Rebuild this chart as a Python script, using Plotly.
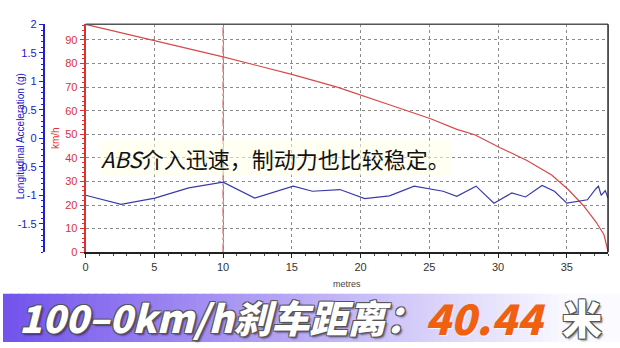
import plotly.graph_objects as go

# ---- data ----
speed_dist = [0, 5.0, 10.0, 15.0, 18.3, 22.2, 25.1, 27.0, 28.3, 30.15, 32.1, 33.9, 35.1, 36.2, 37.1, 37.7, 38.0]
speed_kmh = [96.6, 89.6, 82.8, 75.4, 70.0, 62.3, 56.6, 52.1, 49.8, 44.3, 38.9, 32.7, 26.6, 19.8, 13.0, 7.5, 0.3]

acc_dist = [0, 2.58, 5.04, 7.5, 10.0, 12.3, 15.1, 16.5, 18.5, 20.3, 22.1, 23.9, 26.0, 27.0, 28.4, 29.7,
            31.0, 32.0, 33.2, 34.1, 35.0, 36.5, 37.1, 37.3, 37.5, 37.8, 38.0]
acc_g = [-1.00, -1.16, -1.05, -0.87, -0.77, -1.05, -0.84, -0.93, -0.90, -1.06, -1.01, -0.84, -0.93, -1.02,
         -0.84, -1.14, -0.96, -1.03, -0.83, -0.93, -1.14, -1.08, -0.89, -0.84, -1.00, -0.92, -1.05]

x_ticks = [0, 5, 10, 15, 20, 25, 30, 35]
speed_ticks = [0, 10, 20, 30, 40, 50, 60, 70, 80, 90]
acc_ticks = [2, 1.5, 1, 0.5, 0, -0.5, -1, -1.5]
acc_tick_text = ["2", "1.5", "1", "0.5", "0", "-0.5", "-1", "-1.5"]

acc_title = "Longitudinal Acceleration (g)"
note_text = "<i>ABS</i>介入迅速，制动力也比较稳定。"
banner_main = "100–0km/h刹车距离："
banner_value = "40.44"
banner_unit = "米"

RED = "#e03030"
BLUE = "#2020c8"
GRID = "#8a8a8a"

fig = go.Figure()
fig.add_trace(go.Scatter(x=speed_dist, y=speed_kmh, mode="lines",
                         line=dict(color="#d84848", width=1.2), yaxis="y", showlegend=False))
fig.add_trace(go.Scatter(x=acc_dist, y=acc_g, mode="lines",
                         line=dict(color="#3a3aa8", width=1.2), yaxis="y2", showlegend=False))

y0 = (348 - 255) / 348
y1 = (348 - 19) / 348
x0 = 83 / 620
x1 = 608 / 620

tickfont = dict(family="Liberation Sans, Arial", size=11)

fig.update_layout(
    width=620, height=348, margin=dict(l=0, r=0, t=0, b=0),
    paper_bgcolor="white", plot_bgcolor="white",
    xaxis=dict(domain=[x0, x1], range=[0, 38], tickvals=x_ticks, showgrid=True,
               gridcolor=GRID, griddash="3px,3px", gridwidth=1,
               showline=True, linecolor="#222", linewidth=2, mirror=False,
               ticks="outside", ticklen=4, tickcolor="#222",
               minor=dict(dtick=1, ticks="outside", ticklen=2, tickcolor="#444"),
               tickfont=dict(color="#333", **tickfont), zeroline=False,
               title=dict(text="metres", font=dict(size=9, color="#444", family="Liberation Sans, Arial"), standoff=8)),
    yaxis=dict(domain=[y0, y1], range=[0, 96.6], tickvals=speed_ticks, showgrid=True,
               gridcolor=GRID, griddash="3px,3px", gridwidth=1,
               showline=True, linecolor=RED, linewidth=2,
               ticks="outside", ticklen=4, tickcolor=RED,
               minor=dict(dtick=2, ticks="outside", ticklen=2, tickcolor=RED),
               tickfont=dict(color=RED, **tickfont), zeroline=False,
               title=dict(text="km/h", font=dict(size=10, color=RED, family="Liberation Sans, Arial"), standoff=4)),
    yaxis2=dict(overlaying="y", anchor="free", position=41 / 620, side="left", range=[-2, 2],
                tickvals=acc_ticks, ticktext=acc_tick_text, showgrid=False, zeroline=False,
                showline=True, linecolor=BLUE, linewidth=2,
                ticks="outside", ticklen=4, tickcolor=BLUE,
                minor=dict(dtick=0.1, ticks="outside", ticklen=2, tickcolor=BLUE),
                tickfont=dict(color=BLUE, **tickfont)),
)

# acceleration axis title (sits over the tick labels as in the reference)
fig.add_annotation(x=17 / 620, y=(348 - 135) / 348, xref="paper", yref="paper", xanchor="center", yanchor="middle",
                   text=acc_title, textangle=-90, showarrow=False,
                   font=dict(size=10, color=BLUE, family="Liberation Sans, Arial"))

# top and right border of plot area, red dash-dot marker line at x=10
fig.add_shape(type="line", xref="paper", yref="paper", x0=x0, x1=x1, y0=y1, y1=y1,
              line=dict(color="#555", width=1.5))
fig.add_shape(type="line", xref="paper", yref="paper", x0=x1, x1=x1, y0=y0, y1=y1,
              line=dict(color="#222", width=1.5))
fig.add_shape(type="line", xref="x", yref="paper", x0=10, x1=10, y0=y0, y1=y1,
              line=dict(color="#d03030", width=1, dash="dashdot"), layer="below")

# note in the plot
fig.add_annotation(x=96 / 620, y=(348 - 157) / 348, xref="paper", yref="paper", xanchor="left", yanchor="middle",
                   text=note_text, showarrow=False, bgcolor="rgba(255,255,232,0.55)",
                   font=dict(family="Noto Sans CJK SC", size=22, color="#111"))

# banner gradient background
n = 80
bt = (348 - 298) / 348
c0 = (116, 84, 236)
c1 = (250, 250, 255)
for i in range(n):
    t = min(1.0, (i / (n - 1)) / 0.92)
    r = int(c0[0] + (c1[0] - c0[0]) * t)
    g = int(c0[1] + (c1[1] - c0[1]) * t)
    b = int(c0[2] + (c1[2] - c0[2]) * t)
    fig.add_shape(type="rect", xref="paper", yref="paper", x0=i / n, x1=(i + 1) / n + 0.002, y0=0, y1=bt,
                  line=dict(width=0), fillcolor=f"rgb({r},{g},{b})", layer="above")

outline = ("-1px -1px 0 #555, 1px -1px 0 #555, -1px 1px 0 #555, 1px 1px 0 #555, "
           "2px 2px 2px rgba(0,0,0,0.5)")
by = (348 - 322) / 348
fig.add_annotation(x=14 / 620, y=by, xref="paper", yref="paper", xanchor="left", yanchor="middle",
                   text=banner_main, showarrow=False,
                   font=dict(family="Noto Sans CJK SC", size=38, color="white", weight=900,
                             style="italic", shadow=outline))
fig.add_annotation(x=422 / 620, y=by, xref="paper", yref="paper", xanchor="left", yanchor="middle",
                   text=banner_value, showarrow=False,
                   font=dict(family="Noto Sans CJK SC", size=42, color="#f06010", weight=900,
                             style="italic", shadow="1px 1px 1px rgba(255,255,255,0.8)"))
fig.add_annotation(x=560 / 620, y=by, xref="paper", yref="paper", xanchor="left", yanchor="middle",
                   text=banner_unit, showarrow=False,
                   font=dict(family="Noto Sans CJK SC", size=40, color="white", weight=900,
                             shadow=outline))

fig.write_html("out.html")
